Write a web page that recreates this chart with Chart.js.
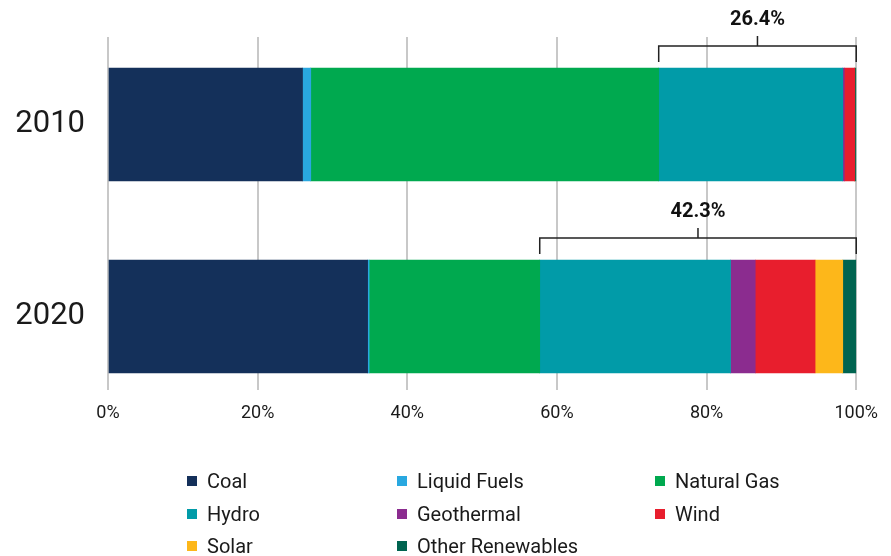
<!DOCTYPE html>
<html>
<head>
<meta charset="utf-8">
<script src="https://cdn.jsdelivr.net/npm/chart.js@4"></script>
<style>
  body { margin: 0; background: #fff; }
  #wrap { position: relative; width: 891px; height: 556px; font-family: Roboto, "Liberation Sans", sans-serif; }
  #mixChart { position: absolute; left: 0; top: 0; }
  #legend { position: absolute; left: 0; top: 0; width: 891px; height: 556px; pointer-events: none; }
  .item { position: absolute; display: flex; align-items: center; font-size: 20px; color: #1a1a1a; height: 24px; }
  .box { width: 10px; height: 10px; margin-right: 10px; }
</style>
</head>
<body>
<div id="wrap">
  <canvas id="mixChart" width="891" height="440"></canvas>
  <div id="legend"></div>
</div>
<script>
const years = [2010, 2020];

const sources = ['Coal', 'Liquid Fuels', 'Natural Gas', 'Hydro', 'Geothermal', 'Wind', 'Solar', 'Other Renewables'];
const colors = ['#14305a', '#29a8e0', '#00a94f', '#019ba8', '#8b2c8f', '#e81e2d', '#fdb71a', '#006450'];
const renewable = [false, false, false, true, true, true, true, true];

// share of generation, percent, [2010, 2020]
const coal = [26.0, 34.7];
const liquidFuels = [1.1, 0.2];
const naturalGas = [46.5, 22.8];
const hydro = [24.6, 25.5];
const geothermal = [0.2, 3.3];
const wind = [1.4, 8.0];
const solar = [0.0, 3.7];
const otherRenewables = [0.2, 1.8];

const xTicks = [0, 20, 40, 60, 80, 100];

const series = [coal, liquidFuels, naturalGas, hydro, geothermal, wind, solar, otherRenewables];

const font = "Roboto, 'Liberation Sans', sans-serif";

// bracket over the renewable part of each bar
const bracketPlugin = {
  id: 'bracket',
  afterDatasetsDraw(chart) {
    const ctx = chart.ctx;
    const x = chart.scales.x;
    const meta = chart.getDatasetMeta(0);
    years.forEach((yr, i) => {
      let start = 0, share = 0;
      series.forEach((s, k) => {
        if (renewable[k]) share += s[i]; else start += s[i];
      });
      const bar = meta.data[i];
      const top = bar.y - bar.height / 2;
      const x0 = x.getPixelForValue(start);
      const x1 = x.getPixelForValue(100);
      const yLine = top - 22;
      const mid = (x0 + x1) / 2;
      ctx.save();
      ctx.strokeStyle = '#222';
      ctx.lineWidth = 1.5;
      ctx.beginPath();
      ctx.moveTo(x0, top - 6);
      ctx.lineTo(x0, yLine);
      ctx.lineTo(x1, yLine);
      ctx.lineTo(x1, top - 6);
      ctx.moveTo(mid, yLine);
      ctx.lineTo(mid, yLine - 10);
      ctx.stroke();
      ctx.fillStyle = '#111';
      ctx.font = 'bold 20px ' + font;
      ctx.textAlign = 'center';
      ctx.textBaseline = 'middle';
      ctx.fillText(share.toFixed(1) + '%', mid, yLine - 26);
      ctx.restore();
    });
  }
};

new Chart(document.getElementById('mixChart'), {
  type: 'bar',
  data: {
    datasets: sources.map((name, k) => ({
      label: name,
      data: years.map((yr, i) => ({ x: series[k][i], y: yr })),
      backgroundColor: colors[k],
      borderWidth: 0,
      barThickness: 113
    }))
  },
  options: {
    indexAxis: 'y',
    responsive: false,
    animation: false,
    layout: { padding: { top: 37, right: 34, left: 0, bottom: 0 } },
    plugins: {
      legend: { display: false },
      tooltip: { enabled: false }
    },
    scales: {
      x: {
        type: 'linear',
        stacked: true,
        min: 0,
        max: 100,
        afterBuildTicks: s => { s.ticks = xTicks.map(v => ({ value: v })); },
        afterFit: s => { s.height = 50; },
        grid: { color: '#c8c8c8', lineWidth: 2, drawTicks: false },
        border: { display: false },
        ticks: {
          padding: 13,
          color: '#1a1a1a',
          font: { family: font, size: 18 },
          callback: v => v + '%'
        }
      },
      y: {
        type: 'linear',
        stacked: true,
        reverse: true,
        offset: false,
        min: 2010 - 4.56,
        max: 2020 + 3.83,
        afterBuildTicks: s => { s.ticks = years.map(v => ({ value: v })); },
        afterFit: s => { s.width = 108; s.paddingTop = 0; s.paddingBottom = 0; },
        grid: { display: false, drawTicks: false },
        border: { display: false },
        ticks: {
          padding: 23,
          color: '#1a1a1a',
          font: { family: font, size: 31 },
          callback: v => String(v)
        }
      }
    }
  },
  plugins: [bracketPlugin]
});

// legend in three columns
const legend = document.getElementById('legend');
const colX = [187, 397, 655];
const rowY = [469, 502, 534];
sources.forEach((name, k) => {
  const item = document.createElement('div');
  item.className = 'item';
  item.style.left = colX[k % 3] + 'px';
  item.style.top = rowY[Math.floor(k / 3)] + 'px';
  item.innerHTML = '<span class="box" style="background:' + colors[k] + '"></span>' + name;
  legend.appendChild(item);
});
</script>
</body>
</html>
